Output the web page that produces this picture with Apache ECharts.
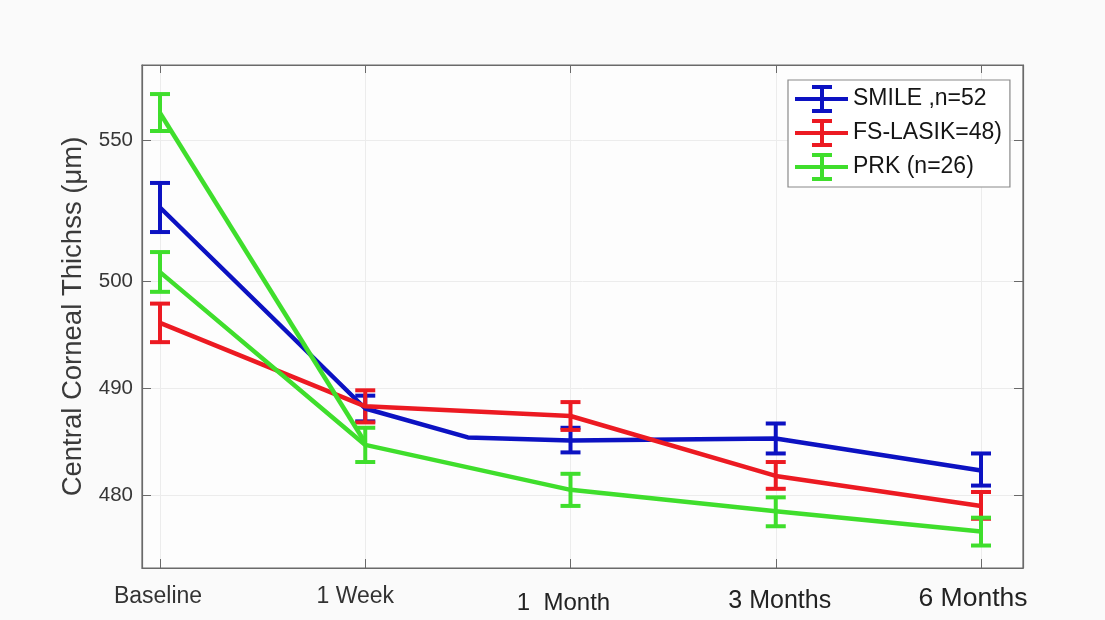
<!DOCTYPE html>
<html>
<head>
<meta charset="utf-8">
<script src="https://cdn.jsdelivr.net/npm/echarts@6/dist/echarts.min.js"></script>
<style>
  html, body { margin: 0; padding: 0; background: #fafafa; }
  #chart { width: 1105px; height: 620px; }
</style>
</head>
<body>
<div id="chart"></div>
<script>
// ---------------- DATA ----------------
const categories = ['Baseline', '1 Week', '1  Month', '3 Months', '6 Months'];

const smileName = 'SMILE ,n=52';
const smileMean = [526.1, 488.1, 485.1, 485.3, 482.3];
const smileLow  = [517.4, 486.9, 484.0, 483.9, 480.9];
const smileHigh = [534.8, 489.3, 486.3, 486.7, 483.9];
const smileBendAt = 1.5;          // extra vertex of the SMILE trace between 1 Week and 1 Month
const smileBendValue = 485.4;

const lasikName = 'FS-LASIK=48)';
const lasikMean = [496.1, 488.3, 487.4, 481.8, 479.0];
const lasikLow  = [494.3, 486.8, 486.1, 480.6, 477.8];
const lasikHigh = [497.9, 489.8, 488.7, 483.1, 480.3];

const prkName = 'PRK (n=26)';
const prkMean = [503.2, 484.7, 480.5, 478.5, 476.6];
const prkLow  = [499.0, 483.1, 479.0, 477.1, 475.3];
const prkHigh = [510.3, 486.3, 482.0, 479.8, 477.9];
// second PRK trace starting from the upper baseline reading
const prkAltMean = [559.6, 484.9];
const prkAltLow  = [553.2];
const prkAltHigh = [566.3];

const yTickLabels = [480, 490, 500, 550];
const yMinUm = 473.2;
const yMaxUm = 576.6;

// ---------------- AXIS TRANSFORM (broken scale above 500 μm) ----------------
const BREAK = 500;
const UPPER_SCALE = 0.2636;
function toAxis(v) { return v <= BREAK ? v - BREAK : (v - BREAK) * UPPER_SCALE; }
const yTickPos = yTickLabels.map(toAxis);

const COLORS = { smile: '#0c12c2', lasik: '#ec1a22', prk: '#3fde2c' };
const FONT = '"Liberation Sans", Arial, Helvetica, sans-serif';

function linePts(means, extra) {
  const pts = means.map((v, i) => [i, toAxis(v)]);
  if (extra) { pts.push([extra[0], toAxis(extra[1])]); pts.sort((a, b) => a[0] - b[0]); }
  return pts;
}
function errPts(low, high) {
  return low.map((l, i) => [i, toAxis(l), toAxis(high[i])]);
}
function errSeries(name, color, low, high) {
  return {
    type: 'custom', name: name, data: errPts(low, high), z: 3,
    renderItem: function (params, api) {
      const x = api.value(0);
      const lo = api.coord([x, api.value(1)]);
      const hi = api.coord([x, api.value(2)]);
      const w = 10;
      const style = { stroke: color, lineWidth: 4, fill: null };
      return { type: 'group', children: [
        { type: 'line', shape: { x1: lo[0], y1: lo[1], x2: hi[0], y2: hi[1] }, style: style },
        { type: 'line', shape: { x1: lo[0] - w, y1: lo[1], x2: lo[0] + w, y2: lo[1] }, style: style },
        { type: 'line', shape: { x1: hi[0] - w, y1: hi[1], x2: hi[0] + w, y2: hi[1] }, style: style }
      ]};
    }
  };
}
function lineSeries(name, color, pts) {
  return {
    type: 'line', name: name, data: pts, symbol: 'none', z: 3,
    lineStyle: { color: color, width: 4.5 }, itemStyle: { color: color }
  };
}

const legendIcon = 'path://M0,12H53V16H0Z M25,0H29V28H25Z M17,0H37V4H17Z M17,24H37V28H17Z';

const chart = echarts.init(document.getElementById('chart'), null, { renderer: 'canvas' });
const axisColor = '#6a6a6a';
chart.setOption({
  backgroundColor: '#fafafa',
  animation: false,
  grid: { left: 142, right: 82, top: 65, bottom: 52, show: true, backgroundColor: '#fdfdfd', borderColor: axisColor, borderWidth: 1.2 },
  legend: {
    orient: 'vertical', left: 788, top: 80,
    backgroundColor: '#ffffff', borderColor: '#8a8a8a', borderWidth: 1.2,
    padding: [5, 8, 6, 7], itemGap: 6, itemWidth: 53, itemHeight: 28,
    textStyle: { fontFamily: FONT, fontSize: 23, color: '#151515', padding: [0, 0, 0, 0] },
    data: [
      { name: smileName, icon: legendIcon, itemStyle: { color: COLORS.smile } },
      { name: lasikName, icon: legendIcon, itemStyle: { color: COLORS.lasik } },
      { name: prkName, icon: legendIcon, itemStyle: { color: COLORS.prk } }
    ]
  },
  xAxis: [{
    type: 'value', min: -0.0877, max: 4.2046,
    axisLine: { show: true, onZero: false, lineStyle: { color: axisColor, width: 1.2 } },
    axisTick: { show: true, inside: true, length: 9, customValues: [0, 1, 2, 3, 4], lineStyle: { color: axisColor } },
    splitLine: { show: true, lineStyle: { color: '#ececec', width: 1 } },
    axisLabel: {
      customValues: [0, 1, 2, 3, 4], margin: 17,
      formatter: function (v) {
        const i = Math.round(v);
        const keys = ['a', 'b', 'c', 'd', 'e'];
        return '{' + keys[i] + '|' + categories[i] + '}';
      },
      rich: {
        a: { fontFamily: FONT, fontSize: 23, color: '#333', padding: [0, 4, 0, 0] },
        b: { fontFamily: FONT, fontSize: 23, color: '#333', padding: [0, 20, 0, 0] },
        c: { fontFamily: FONT, fontSize: 24, color: '#222', padding: [6, 14, 0, 0] },
        d: { fontFamily: FONT, fontSize: 25, color: '#222', padding: [4, 0, 0, 8] },
        e: { fontFamily: FONT, fontSize: 26.5, color: '#222', padding: [0, 16, 0, 0] }
      }
    }
  }, {
    type: 'value', position: 'top', min: -0.0877, max: 4.2046,
    axisLine: { show: true, onZero: false, lineStyle: { color: axisColor, width: 1.2 } },
    axisTick: { show: true, inside: true, length: 8, customValues: [0, 1, 2, 3, 4], lineStyle: { color: axisColor } },
    axisLabel: { show: false }, splitLine: { show: false }
  }],
  yAxis: [{
    type: 'value', min: toAxis(yMinUm), max: toAxis(yMaxUm),
    name: 'Central Corneal Thichss (μm)', nameLocation: 'middle', nameGap: 53,
    nameTextStyle: { fontFamily: FONT, fontSize: 27.5, color: '#3a3a3a' },
    axisLine: { show: true, onZero: false, lineStyle: { color: axisColor, width: 1.2 } },
    axisTick: { show: true, inside: true, length: 9, customValues: yTickPos, lineStyle: { color: axisColor } },
    splitLine: { show: true, lineStyle: { color: '#ececec', width: 1 } },
    axisLabel: {
      customValues: yTickPos, margin: 9,
      fontFamily: FONT, fontSize: 20.5, color: '#363636',
      formatter: function (v) {
        let best = 0;
        yTickPos.forEach((p, i) => { if (Math.abs(p - v) < Math.abs(yTickPos[best] - v)) best = i; });
        return String(yTickLabels[best]);
      }
    }
  }, {
    type: 'value', position: 'right', min: toAxis(yMinUm), max: toAxis(yMaxUm),
    axisLine: { show: true, onZero: false, lineStyle: { color: axisColor, width: 1.2 } },
    axisTick: { show: true, inside: true, length: 9, customValues: yTickPos, lineStyle: { color: axisColor } },
    axisLabel: { show: false }, splitLine: { show: false }
  }],
  series: [
    lineSeries(smileName, COLORS.smile, linePts(smileMean, [smileBendAt, smileBendValue])),
    errSeries(smileName, COLORS.smile, smileLow, smileHigh),
    lineSeries(lasikName, COLORS.lasik, linePts(lasikMean)),
    errSeries(lasikName, COLORS.lasik, lasikLow, lasikHigh),
    lineSeries(prkName, COLORS.prk, linePts(prkMean)),
    lineSeries(prkName, COLORS.prk, linePts(prkAltMean)),
    errSeries(prkName, COLORS.prk, prkLow, prkHigh),
    errSeries(prkName, COLORS.prk, prkAltLow, prkAltHigh)
  ]
});
</script>
</body>
</html>
